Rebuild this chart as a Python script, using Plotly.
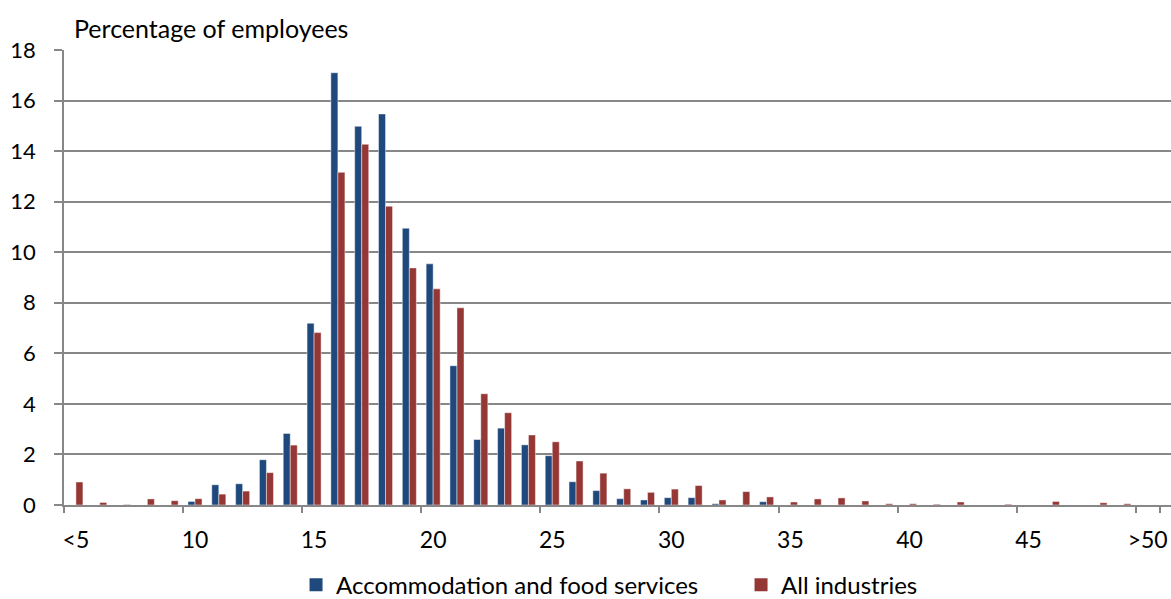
import plotly.graph_objects as go

categories = ["<5", "6", "7", "8", "9", "10", "11", "12", "13", "14", "15", "16", "17", "18",
              "19", "20", "21", "22", "23", "24", "25", "26", "27", "28", "29", "30", "31", "32",
              "33", "34", "35", "36", "37", "38", "39", "40", "41", "42", "43", "44", "45", "46",
              "47", "48", "49", ">50"]

accommodation = [0, 0, 0, 0, 0, 0.14, 0.80, 0.84, 1.79, 2.83, 7.19, 17.10, 14.98, 15.47,
                 10.95, 9.54, 5.51, 2.59, 3.04, 2.38, 1.95, 0.92, 0.57, 0.25, 0.20, 0.29, 0.29, 0.05,
                 0, 0.13, 0, 0, 0, 0, 0, 0, 0, 0, 0, 0, 0, 0,
                 0, 0, 0, 0]

all_industries = [0.91, 0.10, 0.02, 0.24, 0.17, 0.25, 0.43, 0.55, 1.28, 2.37, 6.82, 13.16, 14.27, 11.82,
                  9.38, 8.55, 7.80, 4.40, 3.65, 2.77, 2.50, 1.74, 1.26, 0.64, 0.50, 0.63, 0.77, 0.20,
                  0.53, 0.32, 0.12, 0.24, 0.28, 0.16, 0.05, 0.05, 0.03, 0.12, 0, 0.03, 0, 0.14,
                  0, 0.09, 0.05, 0]

tick_labels = ["<5", "10", "15", "20", "25", "30", "35", "40", "45", ">50"]
series_names = ["Accommodation and food services", "All industries"]
series_colors = ["#1F497D", "#953735"]

FONT = "Lato"
GRID = "#878787"

fig = go.Figure()
for name, vals, col in zip(series_names, [accommodation, all_industries], series_colors):
    fig.add_trace(go.Bar(x=categories, y=vals, name=name, showlegend=False,
                         marker=dict(color=col, line=dict(color="rgba(255,255,255,0.45)", width=1))))
# legend entries with larger square keys
for name, col in zip(series_names, series_colors):
    fig.add_trace(go.Scatter(x=[None], y=[None], mode="markers", name=name,
                             marker=dict(symbol="square", size=13, color=col)))

fig.update_layout(
    width=1171, height=599,
    margin=dict(l=64, r=0, t=50, b=94, autoexpand=False),
    paper_bgcolor="white", plot_bgcolor="white",
    barmode="group", bargap=0.41, bargroupgap=0,
    font=dict(family=FONT, size=22, color="black"),
    showlegend=True,
    legend=dict(orientation="h", x=0.6116, xanchor="center", y=-0.176, yanchor="middle",
                font=dict(size=24), itemwidth=30, tracegroupgap=0,
                entrywidth=400, entrywidthmode="pixels"),
    xaxis=dict(type="category", range=[-0.5, 45.98], tickmode="array", tickvals=tick_labels,
               ticktext=tick_labels, tickson="boundaries", ticks="outside", ticklen=6,
               tickangle=0, automargin=False,
               tickcolor=GRID, tickwidth=1.5, showline=True, linecolor=GRID, linewidth=1.5,
               showgrid=False, ticklabelstandoff=14, tickfont=dict(size=23)),
    yaxis=dict(range=[0, 18], dtick=2, ticks="outside", ticklen=8, tickcolor=GRID, tickwidth=1.5,
               automargin=False,
               showline=True, linecolor=GRID, linewidth=1.5, showgrid=True, gridcolor=GRID,
               gridwidth=1.5, zeroline=False, ticklabelstandoff=14, tickfont=dict(size=22)),
    annotations=[dict(text="Percentage of employees", xref="paper", yref="paper",
                      x=(72 - 64) / 1107, y=1 + 22 / 455, xanchor="left", yanchor="middle",
                      showarrow=False, font=dict(size=25))],
)

fig.write_html("out.html", config={"displayModeBar": False},
               post_script="document.body.style.margin='0';document.body.style.overflow='hidden';")
